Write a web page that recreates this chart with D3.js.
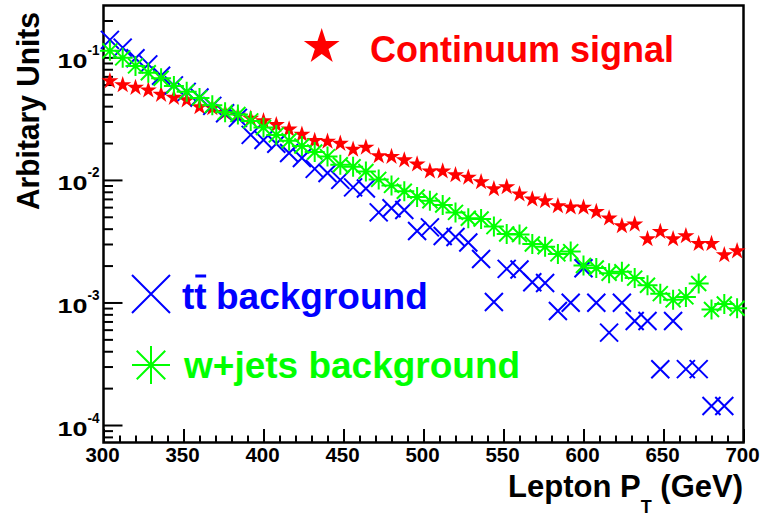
<!DOCTYPE html>
<html>
<head>
<meta charset="utf-8">
<script src="https://cdn.jsdelivr.net/npm/d3@7/dist/d3.min.js"></script>
<style>
  html, body { margin: 0; padding: 0; background: #fff; }
  svg { display: block; }
  text { font-family: "Liberation Sans", Arial, Helvetica, sans-serif; font-weight: bold; }
</style>
</head>
<body>
<svg id="chart" width="763" height="518"></svg>
<script>
// Lepton pT bin centres (8 GeV bins from 300 to 700 GeV)
const binCenters = [304, 312, 320, 328, 336, 344, 352, 360, 368, 376,
                    384, 392, 400, 408, 416, 424, 432, 440, 448, 456,
                    464, 472, 480, 488, 496, 504, 512, 520, 528, 536,
                    544, 552, 560, 568, 576, 584, 592, 600, 608, 616,
                    624, 632, 640, 648, 656, 664, 672, 680, 688, 696];

// Normalised distributions (arbitrary units); 0 = empty bin
const signal = [0.0655, 0.0608, 0.0578, 0.0551, 0.0507, 0.0479, 0.0457, 0.0402, 0.0394, 0.0361,
                0.0342, 0.0324, 0.0309, 0.0287, 0.0264, 0.0240, 0.0213, 0.0210, 0.0202, 0.0181,
                0.0188, 0.0160, 0.0158, 0.0148, 0.0137, 0.0120, 0.0120, 0.0112, 0.0107, 0.00981,
                0.00861, 0.00893, 0.00779, 0.00709, 0.00687, 0.00625, 0.00610, 0.00608, 0.00562, 0.00496,
                0.00429, 0.00443, 0.00336, 0.00386, 0.00336, 0.00356, 0.00308, 0.00308, 0.00249, 0.00268];

const ttbar = [0.139, 0.120, 0.0985, 0.0877, 0.0709, 0.0591, 0.0523, 0.0471, 0.0402, 0.0350,
               0.0321, 0.0233, 0.0212, 0.0197, 0.0166, 0.0151, 0.0123, 0.0114, 0.0100, 0.00869,
               0.00852, 0.00543, 0.00587, 0.00569, 0.00383, 0.00410, 0.00349, 0.00342, 0.00309, 0.00226,
               0.00101, 0.00188, 0.00186, 0.00146, 0.00144, 0.000852, 0.000996, 0.00190, 0.000996, 0.000567,
               0.000996, 0.000706, 0.000706, 0.000285, 0.000706, 0.000286, 0.000286, 0.000143, 0.000143, 0];

const wjets = [0.113, 0.0991, 0.0852, 0.0750, 0.0676, 0.0585, 0.0523, 0.0467, 0.0406, 0.0356,
               0.0342, 0.0303, 0.0268, 0.0233, 0.0209, 0.0189, 0.0169, 0.0155, 0.0133, 0.0128,
               0.0117, 0.0101, 0.00902, 0.00809, 0.00726, 0.00676, 0.00625, 0.00543, 0.00487, 0.00480,
               0.00416, 0.00362, 0.00359, 0.00300, 0.00285, 0.00249, 0.00260, 0.00200, 0.00191, 0.00173,
               0.00178, 0.00158, 0.00138, 0.00118, 0.00105, 0.00111, 0.00143, 0.000875, 0.000972, 0.000897];

// Axis ticks and labels
const xMajorTicks = [300, 350, 400, 450, 500, 550, 600, 650, 700];
const xMinorTicks = [310, 320, 330, 340, 360, 370, 380, 390, 410, 420, 430, 440, 460, 470, 480, 490,
                     510, 520, 530, 540, 560, 570, 580, 590, 610, 620, 630, 640, 660, 670, 680, 690];
const yDecades = [1e-4, 1e-3, 1e-2, 1e-1];
const yExponents = ["-4", "-3", "-2", "-1"];
const xDomain = [300, 700];
const yDomain = [7.2e-5, 0.265];

const xTitle = ["Lepton P", "T", " (GeV)"];
const yTitle = "Arbitary Units";
const legendSignal = "Continuum signal";
const legendTT = ["tt", "background"];
const legendW = "w+jets background";

const RED = "#ff0000", BLUE = "#0000ff", GREEN = "#00ff00";

const plot = { left: 103.5, right: 743.5, top: 5.5, bottom: 442.5 };
const svg = d3.select("#chart");

const x = d3.scaleLinear().domain(xDomain).range([plot.left, plot.right]);
const y = d3.scaleLog().domain(yDomain).range([plot.bottom, plot.top]);

// Marker shapes: diagonal cross and eight-armed asterisk
const symbolCross45 = {
  draw(ctx, size) {
    const r = Math.sqrt(size) / 2;
    ctx.moveTo(-r, -r); ctx.lineTo(r, r);
    ctx.moveTo(-r, r); ctx.lineTo(r, -r);
  }
};
const symbolAsterisk8 = {
  draw(ctx, size) {
    const r = Math.sqrt(size) / 2, d = r * 0.75;
    ctx.moveTo(-r, 0); ctx.lineTo(r, 0);
    ctx.moveTo(0, -r); ctx.lineTo(0, r);
    ctx.moveTo(-d, -d); ctx.lineTo(d, d);
    ctx.moveTo(-d, d); ctx.lineTo(d, -d);
  }
};
const starSize = R => R * R / 0.8908130915292852;   // d3.symbolStar outer radius -> area
const starPath = R => d3.symbol().type(d3.symbolStar).size(starSize(R))();
const crossPath = r => d3.symbol().type(symbolCross45).size(4 * r * r)();
const asteriskPath = r => d3.symbol().type(symbolAsterisk8).size(4 * r * r)();

// ---- axes (ticks point into the frame) ----
const xAxisG = svg.append("g").attr("transform", `translate(0,${plot.bottom})`);
xAxisG.append("g")
  .call(d3.axisBottom(x).tickValues(xMinorTicks).tickSizeInner(-7).tickSizeOuter(0).tickFormat(() => ""));
const xMajor = xAxisG.append("g")
  .call(d3.axisBottom(x).tickValues(xMajorTicks).tickSizeInner(-13.5).tickSizeOuter(0).tickFormat(d3.format("d")));
xAxisG.selectAll(".domain").remove();
xAxisG.selectAll("line").attr("stroke", "#000").attr("stroke-width", 2);
xMajor.selectAll("text")
  .attr("x", -1.5).attr("y", 19).attr("dy", null)
  .attr("fill", "#000").attr("font-size", 20.5)
  .style("font-family", '"Liberation Sans", Arial, sans-serif').style("font-weight", "bold");

const yMinorTicks = [];
[1e-5, 1e-4, 1e-3, 1e-2, 1e-1].forEach(d => {
  for (let k = 2; k <= 9; k++) {
    const v = k * d;
    if (v > yDomain[0] && v < yDomain[1]) yMinorTicks.push(v);
  }
});
const yAxisG = svg.append("g").attr("transform", `translate(${plot.left},0)`);
yAxisG.append("g")
  .call(d3.axisLeft(y).tickValues(yMinorTicks).tickSizeInner(-9.5).tickSizeOuter(0).tickFormat(() => ""));
yAxisG.append("g")
  .call(d3.axisLeft(y).tickValues(yDecades).tickSizeInner(-19).tickSizeOuter(0).tickFormat(() => ""));
yAxisG.selectAll(".domain").remove();
yAxisG.selectAll("line").attr("stroke", "#000").attr("stroke-width", 2);

// decade labels 10^n
const yLab = svg.append("g");
yDecades.forEach((v, i) => {
  const yy = y(v);
  yLab.append("text").attr("x", 57.5).attr("y", yy + 10.5)
    .attr("font-size", 19.5).attr("textLength", 30).attr("lengthAdjust", "spacingAndGlyphs")
    .text("10");
  yLab.append("text").attr("x", 87.5).attr("y", yy - 2.5)
    .attr("font-size", 14).attr("textLength", 12).attr("lengthAdjust", "spacingAndGlyphs")
    .text(yExponents[i]);
});

// frame
svg.append("rect")
  .attr("x", plot.left).attr("y", plot.top)
  .attr("width", plot.right - plot.left).attr("height", plot.bottom - plot.top)
  .attr("fill", "none").attr("stroke", "#000").attr("stroke-width", 2.5);

// ---- data markers ----
const pts = vals => binCenters.map((c, i) => ({ c, v: vals[i] })).filter(d => d.v > 0);

svg.append("g").selectAll("path").data(pts(signal)).join("path")
  .attr("d", starPath(9))
  .attr("transform", d => `translate(${x(d.c)},${y(d.v) + 1.1})`)
  .attr("fill", RED);

svg.append("g").selectAll("path").data(pts(ttbar)).join("path")
  .attr("d", crossPath(9))
  .attr("transform", d => `translate(${x(d.c)},${y(d.v)})`)
  .attr("fill", "none").attr("stroke", BLUE).attr("stroke-width", 2);

svg.append("g").selectAll("path").data(pts(wjets)).join("path")
  .attr("d", asteriskPath(10))
  .attr("transform", d => `translate(${x(d.c)},${y(d.v)})`)
  .attr("fill", "none").attr("stroke", GREEN).attr("stroke-width", 2);

// ---- legend ----
const leg = svg.append("g");
leg.append("path").attr("d", starPath(18.8))
  .attr("transform", "translate(321.7,46.8)").attr("fill", RED);
leg.append("text").attr("x", 370).attr("y", 62).attr("font-size", 36).attr("fill", RED).text(legendSignal);

leg.append("path").attr("d", crossPath(19))
  .attr("transform", "translate(151,294)")
  .attr("fill", "none").attr("stroke", BLUE).attr("stroke-width", 2);
const tt = leg.append("text").attr("x", 182).attr("y", 309).attr("font-size", 37).attr("fill", BLUE).text(legendTT[0]);
leg.append("text").attr("x", 216).attr("y", 309).attr("font-size", 37).attr("fill", BLUE).text(legendTT[1]);
// bar over the second t
const tNode = tt.node();
const b0 = tNode.getStartPositionOfChar(1).x, b1 = tNode.getEndPositionOfChar(1).x;
leg.append("line").attr("x1", b0 + 1).attr("x2", b1 - 0.5).attr("y1", 276).attr("y2", 276)
  .attr("stroke", BLUE).attr("stroke-width", 3);

leg.append("path").attr("d", asteriskPath(19))
  .attr("transform", "translate(151,365)")
  .attr("fill", "none").attr("stroke", GREEN).attr("stroke-width", 2);
leg.append("text").attr("x", 184).attr("y", 378).attr("font-size", 37).attr("fill", GREEN).text(legendW);

// ---- axis titles ----
const xt = svg.append("text").attr("x", 743).attr("y", 497).attr("text-anchor", "end").attr("font-size", 31);
xt.append("tspan").text(xTitle[0]);
xt.append("tspan").attr("font-size", 18).attr("dy", 16).text(xTitle[1]);
xt.append("tspan").attr("dy", -16).text(xTitle[2]);

svg.append("text")
  .attr("transform", "translate(38.5,12) rotate(-90)")
  .attr("text-anchor", "end").attr("font-size", 31)
  .attr("textLength", 198).attr("lengthAdjust", "spacingAndGlyphs")
  .text(yTitle);
</script>
</body>
</html>
